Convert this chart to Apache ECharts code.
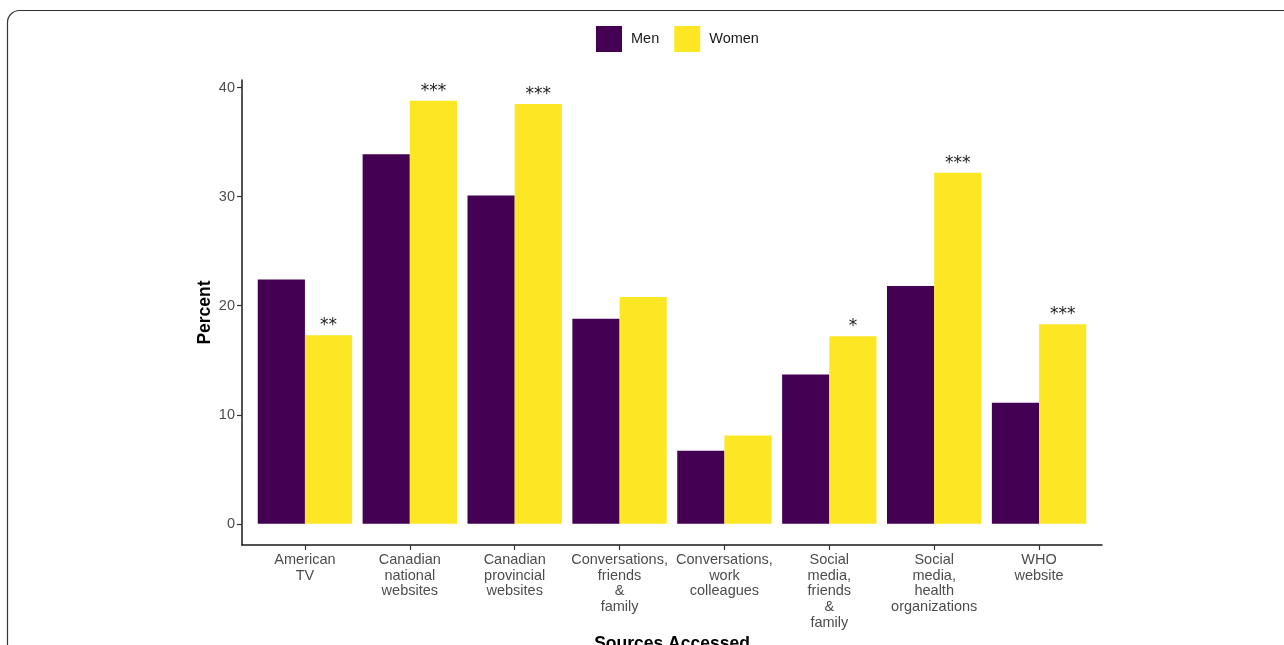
<!DOCTYPE html>
<html><head><meta charset="utf-8">
<script src="https://cdn.jsdelivr.net/npm/echarts@6/dist/echarts.min.js"></script>
<style>html,body{margin:0;padding:0;background:#fff}#c{width:1284px;height:645px}</style>
</head><body><div id="c"></div>
<script>
const categories = ["American\nTV","Canadian\nnational\nwebsites","Canadian\nprovincial\nwebsites","Conversations,\nfriends\n&\nfamily","Conversations,\nwork\ncolleagues","Social\nmedia,\nfriends\n&\nfamily","Social\nmedia,\nhealth\norganizations","WHO\nwebsite"];
const men = [22.4, 33.9, 30.1, 18.8, 6.7, 13.7, 21.8, 11.1];
const women = [17.3, 38.8, 38.5, 20.8, 8.1, 17.2, 32.2, 18.3];
const significance = ["**", "***", "***", "", "", "*", "***", "***"];
const yTicks = [0, 10, 20, 30, 40];

const chart = echarts.init(document.getElementById('c'), null, {renderer: 'canvas'});
const font = 'Liberation Sans, Arial, sans-serif';
const yMin = -1.94, yMax = 40.7;
chart.setOption({
  animation: false,
  textStyle: {fontFamily: font},
  graphic: [{
    type: 'rect', shape: {x: 7.5, y: 10.5, width: 1400, height: 800, r: 12},
    style: {fill: 'none', stroke: '#333', lineWidth: 1.2}, silent: true, z: -10
  }],
  legend: {
    left: 591, top: 21, itemWidth: 26, itemHeight: 26, itemGap: 15, icon: 'rect',
    textStyle: {fontSize: 14.5, color: '#1a1a1a', fontFamily: font, padding: [0,0,0,4]},
    data: ['Men', 'Women']
  },
  grid: [
    {left: 242, right: 182, top: 80, bottom: 100, containLabel: false, outerBoundsMode: 'none'},
    {left: 252.5, right: 192.5, top: 80, bottom: 100, containLabel: false, outerBoundsMode: 'none'}
  ],
  xAxis: [
    {type: 'value', gridIndex: 0, min: 0.4, max: 8.6,
     axisLine: {show: true, onZero: false, lineStyle: {color: '#1a1a1a', width: 1.5}},
     axisTick: {show: false}, axisLabel: {show: false}, splitLine: {show: false}},
    {type: 'category', gridIndex: 1, data: categories,
     axisLine: {show: false, onZero: false},
     axisTick: {show: true, alignWithLabel: true, length: 5, lineStyle: {color: '#333', width: 1.2}},
     axisLabel: {interval: 0, color: '#4d4d4d', fontSize: 14.5, lineHeight: 15.7, margin: 7, fontFamily: font},
     name: 'Sources Accessed', nameLocation: 'middle', nameGap: 90, nameMoveOverlap: false,
     nameTextStyle: {fontSize: 17.5, fontWeight: 'bold', color: '#000', fontFamily: font}}
  ],
  yAxis: [
    {type: 'value', gridIndex: 0, min: yMin, max: yMax,
     splitLine: {show: false},
     axisLine: {show: true, lineStyle: {color: '#1a1a1a', width: 1.5}},
     axisTick: {show: true, length: 5, customValues: yTicks, lineStyle: {color: '#333', width: 1.2}},
     axisLabel: {customValues: yTicks, color: '#4d4d4d', fontSize: 14.5, margin: 7, fontFamily: font},
     name: 'Percent', nameLocation: 'middle', nameGap: 28, nameRotate: 90, nameMoveOverlap: false,
     nameTextStyle: {fontSize: 17.5, fontWeight: 'bold', color: '#000', fontFamily: font}},
    {type: 'value', gridIndex: 1, min: yMin, max: yMax, show: false, splitLine: {show: false}}
  ],
  series: [
    {name: 'Men', type: 'bar', xAxisIndex: 1, yAxisIndex: 1, data: men, barGap: '0%', barCategoryGap: '10%',
     itemStyle: {color: '#440154'}},
    {name: 'Women', type: 'bar', xAxisIndex: 1, yAxisIndex: 1, data: women, barGap: '0%', barCategoryGap: '10%',
     itemStyle: {color: '#FDE725'},
     label: {show: true, position: 'top', distance: 1, fontSize: 17, color: '#222', fontFamily: 'DejaVu Sans',
       formatter: p => significance[p.dataIndex]}}
  ]
});
</script></body></html>
